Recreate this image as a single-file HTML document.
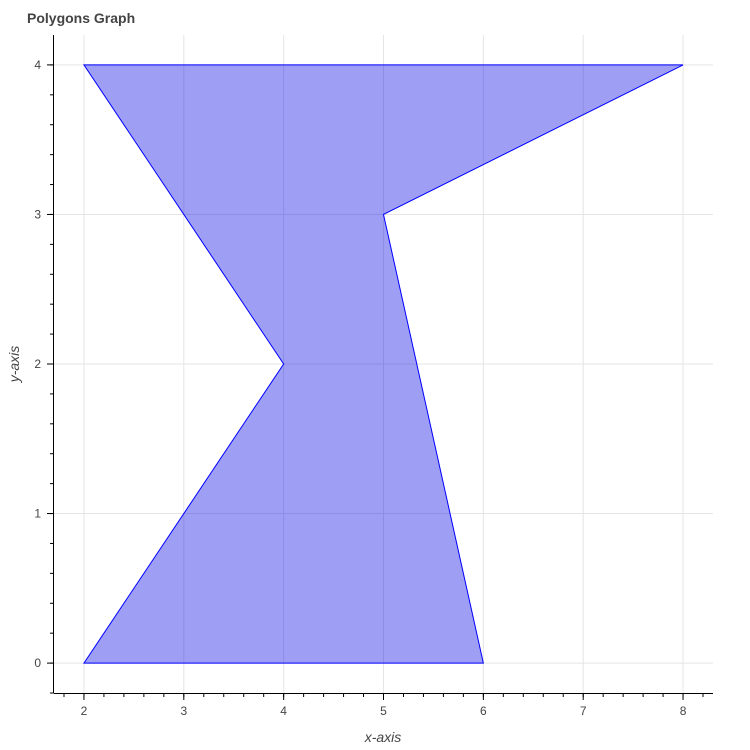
<!DOCTYPE html>
<html><head><meta charset="utf-8"><style>
body{margin:0;background:#fff;}
svg{display:block;font-family:"Liberation Sans",Arial,sans-serif;}
</style></head><body>
<svg id="chart" width="750" height="750">
<text x="27" y="23" font-size="14" font-weight="bold" fill="#444">Polygons Graph</text>
<g id="grid"></g>
<g id="marks"></g>
<g id="axes"></g>
<text x="383" y="742" font-size="14" font-style="italic" fill="#444" text-anchor="middle">x-axis</text>
<text transform="translate(19,364) rotate(-90)" font-size="14" font-style="italic" fill="#444" text-anchor="middle">y-axis</text>
</svg>
<script>
const xsData=[2,4,2,8,5,6];
const ysData=[0,2,4,4,3,0];
const xTicks=[2,3,4,5,6,7,8];
const yTicks=[0,1,2,3,4];
const L=54,R=713,T=35,B=693;
const xMin=1.7,xMax=8.3,yMin=-0.2,yMax=4.2;
const sx=v=>L+(v-xMin)/(xMax-xMin)*(R-L);
const sy=v=>B-(v-yMin)/(yMax-yMin)*(B-T);
const NS="http://www.w3.org/2000/svg";
function mk(tag,attrs,parent){const e=document.createElementNS(NS,tag);for(const k in attrs)e.setAttribute(k,attrs[k]);parent.appendChild(e);return e;}
const grid=document.getElementById('grid'),marks=document.getElementById('marks'),axes=document.getElementById('axes');
xTicks.forEach(t=>{const l=mk('line',{x1:sx(t),x2:sx(t),y1:T,y2:B,stroke:'#e5e5e5'},grid);

});
yTicks.forEach(t=>{const l=mk('line',{x1:L,x2:R,y1:sy(t),y2:sy(t),stroke:'#e5e5e5'},grid);

});
const pts=xsData.map((x,i)=>sx(x)+','+sy(ysData[i])).join(' ');
const poly=mk('polygon',{points:pts,fill:'rgb(0,0,230)','fill-opacity':0.38,stroke:'blue','stroke-width':1},marks);


mk('line',{x1:L,x2:R,y1:B+0.5,y2:B+0.5,stroke:'#000'},axes);
mk('line',{x1:L-0.5,x2:L-0.5,y1:T,y2:B,stroke:'#000'},axes);
for(let v=1.8;v<=8.3;v+=0.2){const x=sx(v);if(x>=L&&x<=R)mk('line',{x1:x,x2:x,y1:B,y2:B+4,stroke:'#000'},axes);}
for(let v=-0.2;v<=4.2;v+=0.2){const y=sy(v);if(y>=T-0.5&&y<=B+0.5)mk('line',{x1:L-4,x2:L,y1:y,y2:y,stroke:'#000'},axes);}
xTicks.forEach(t=>{mk('line',{x1:sx(t),x2:sx(t),y1:B,y2:B+7,stroke:'#000'},axes);
const tx=mk('text',{x:sx(t),y:B+22,'font-size':12,fill:'#444','text-anchor':'middle'},axes);tx.textContent=t;

});
yTicks.forEach(t=>{mk('line',{x1:L-7,x2:L,y1:sy(t),y2:sy(t),stroke:'#000'},axes);
const tx=mk('text',{x:L-13,y:sy(t)+4,'font-size':12,fill:'#444','text-anchor':'end'},axes);tx.textContent=t;

});
</script>
</body></html>
